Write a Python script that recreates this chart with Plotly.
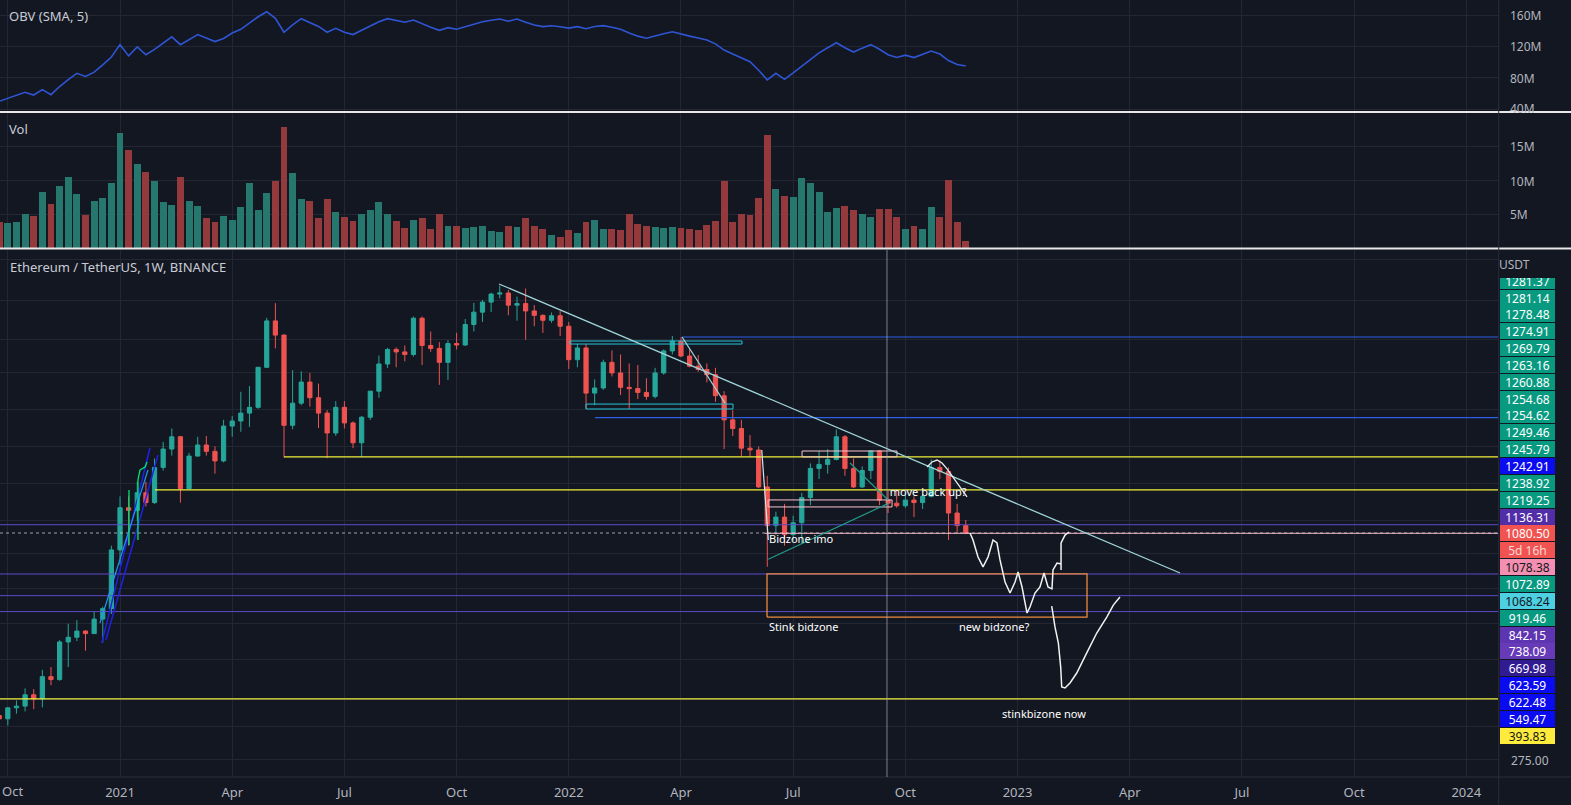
import numpy as np
import pandas as pd
import plotly.graph_objects as go

# ---------------- data ----------------
start_week = "2020-09-28"
opens = [356, 349, 373, 377, 404, 394, 451, 443, 557, 573, 595, 586, 640, 682, 975, 1260, 1240, 1380, 1300, 1610,
         1800, 1940, 1415, 1725, 1845, 1775, 1675, 2070, 2135, 2240, 2320, 2960, 3925, 3600, 2080, 2380, 2705, 2460,
         2240, 1985, 2320, 2110, 1870, 2185, 2560, 3020, 3300, 3250, 3200, 3990, 3380, 3320, 3050, 3420, 3390, 3840,
         4140, 4400, 4620, 4650, 4320, 4360, 4170, 4060, 3940, 4050, 3800, 3100, 3330, 2530, 2610, 3050, 2860, 2620,
         2600, 2540, 2480, 2860, 3270, 3470, 3170, 2980, 2920, 2830, 2490, 2150, 2040, 1810, 1790, 1430, 1130, 1190,
         1070, 1150, 1340, 1600, 1640, 1690, 1940, 1600, 1430, 1580, 1780, 1320, 1295, 1275, 1320, 1300, 1350, 1610,
         1570, 1220, 1130]
highs = [377, 375, 390, 420, 418, 470, 478, 563, 622, 636, 598, 670, 690, 1000, 1350, 1350, 1475, 1475, 1700, 1880,
         2040, 1950, 1760, 1940, 1950, 1830, 2150, 2200, 2550, 2640, 2950, 4000, 4372, 3620, 2910, 2890, 2860, 2680,
         2280, 2410, 2410, 2130, 2200, 2550, 3180, 3330, 3340, 3380, 4030, 4030, 3680, 3450, 3490, 3650, 3970, 4380,
         4460, 4660, 4868, 4740, 4550, 4780, 4320, 4080, 4130, 4170, 3900, 3410, 3410, 2750, 3100, 3280, 3200, 3030,
         3000, 2770, 2950, 3300, 3580, 3550, 3300, 3190, 3030, 2950, 2560, 2280, 2150, 1960, 1830, 1530, 1230, 1290,
         1200, 1380, 1650, 1780, 1800, 2030, 1960, 1700, 1620, 1790, 1790, 1400, 1400, 1380, 1350, 1370, 1690, 1680,
         1610, 1290, 1170]
lows = [334, 335, 360, 365, 370, 374, 428, 440, 478, 560, 528, 585, 555, 660, 890, 1000, 1165, 1270, 1290, 1580,
        1730, 1300, 1410, 1720, 1730, 1550, 1660, 1940, 2000, 2060, 2300, 2950, 3320, 1710, 2030, 2350, 2330, 2045,
        1703, 1950, 2040, 1810, 1713, 2150, 2460, 2950, 2960, 3070, 3160, 3000, 3250, 2660, 2740, 3300, 3370, 3680,
        3900, 4140, 4500, 4060, 3930, 3500, 3800, 3650, 3880, 3580, 2930, 2960, 2300, 2350, 2580, 2800, 2500, 2300,
        2440, 2430, 2450, 2830, 3200, 3150, 2960, 2880, 2700, 2400, 1800, 1950, 1720, 1720, 1420, 880, 1070, 1000,
        1030, 1010, 1280, 1500, 1550, 1680, 1530, 1420, 1420, 1500, 1280, 1220, 1260, 1260, 1190, 1250, 1340, 1500,
        1035, 1080, 1073]
closes = [349, 373, 377, 404, 394, 451, 443, 557, 573, 595, 586, 640, 682, 975, 1260, 1240, 1380, 1300, 1610, 1800,
          1940, 1415, 1725, 1845, 1775, 1675, 2070, 2135, 2240, 2320, 2960, 3925, 3600, 2080, 2380, 2705, 2460, 2240,
          1985, 2320, 2110, 1870, 2185, 2560, 3020, 3300, 3250, 3200, 3990, 3380, 3320, 3050, 3420, 3390, 3840, 4140,
          4400, 4620, 4650, 4320, 4360, 4170, 4060, 3940, 4050, 3800, 3100, 3330, 2530, 2610, 3050, 2860, 2620, 2600,
          2540, 2480, 2860, 3270, 3470, 3170, 2980, 2920, 2830, 2490, 2150, 2040, 1810, 1790, 1430, 1130, 1190, 1070,
          1150, 1340, 1600, 1640, 1690, 1940, 1600, 1430, 1580, 1780, 1320, 1295, 1275, 1320, 1300, 1350, 1610, 1570,
          1220, 1130, 1080.5]
volume_m = [3.97, 3.83, 3.97, 5.11, 4.81, 8.37, 6.59, 9.26, 10.6, 8.07, 4.96, 7.04, 7.48, 9.6, 17.1, 14.6, 12.5, 11.3,
            10.0, 6.93, 6.49, 10.6, 7.04, 6.3, 4.57, 3.93, 4.81, 4.22, 6.15, 9.6, 5.7, 8.22, 9.9, 18.0, 11.2, 7.33, 7.08,
            4.57, 7.38, 5.41, 4.67, 4.07, 5.11, 5.7, 6.93, 5.11, 4.12, 3.04, 4.27, 4.57, 2.89, 5.16, 3.33, 3.33, 3.04,
            3.19, 3.33, 2.64, 2.49, 3.33, 3.19, 4.57, 3.33, 2.94, 2.05, 1.75, 2.79, 2.3, 3.97, 4.22, 2.94, 2.89, 2.79,
            5.16, 3.63, 3.33, 3.19, 3.04, 3.19, 3.04, 2.84, 2.79, 3.48, 4.12, 9.9, 3.93, 5.11, 5.01, 7.48, 16.7, 8.81,
            7.68, 7.58, 10.44, 9.6, 8.37, 5.41, 6.0, 6.3, 5.7, 5.11, 4.67, 5.85, 5.85, 4.67, 2.94, 3.33, 2.94, 6.15,
            4.67, 10.05, 3.93, 1.16]
obv_sma_m = [50, 53.5, 57, 61.5, 58, 65, 58.5, 69, 78, 86, 82, 87.5, 97, 107, 123, 108.5, 120, 110, 117, 125, 133, 123,
             129.5, 136, 131.5, 127, 131, 138, 142.8, 151.5, 159, 165.5, 157, 139, 148.5, 156.5, 151.5, 146.5, 139, 144,
             139, 136, 141.5, 147, 152.5, 156.5, 154, 152, 154.8, 150, 145.5, 141.5, 144.9, 142.8, 146, 149.5, 152.6,
             154.5, 156, 153.2, 156, 152, 148.4, 146.3, 147.4, 146, 144.3, 146.2, 143.5, 146.5, 147.5, 145.5, 143, 138,
             134, 131.3, 134.5, 137, 139.6, 136.5, 134, 131.7, 129, 124, 116, 111, 106.5, 101, 90, 77.5, 86, 78.3, 86.5,
             95, 104.5, 112.5, 119, 125.5, 119, 113.5, 118.5, 123, 117, 110, 106.5, 109.5, 106.3, 110.5, 114.8, 110.9,
             102.5, 97.5, 95.5]

# drawings (x in weeks from first bar, y in USDT)
trend_main_x, trend_main_y = [57.92, 136.83], [4913, 847]
trend_short_x, trend_short_y = [79.12, 84.1], [3559, 2382]
drop_x, drop_y = [88.36, 89.12], [1789, 1035]
teal_a_x, teal_a_y = [89.12, 103.03], [921, 1294]
teal_b_x, teal_b_y = [98.59, 103.0], [1654, 1321]
cyan_box1_x, cyan_box1_y = [66.14, 86.07], [3410, 3473]
cyan_box2_x, cyan_box2_y = [68.0, 85.03], [2297, 2367]
pink_box1_x, pink_box1_y = [93.03, 104.03], [1716, 1779]
pink_box2_x, pink_box2_y = [89.1, 103.46], [1266, 1321]
orange_box_x, orange_box_y = [88.97, 126.05], [648, 842.15]
blue_level_start, blue_level_price = [79.12, 69.04], [3559, 2180]
yellow_level_start, yellow_level_price = [33.0, 18.05, 0.0], [1716, 1404, 393.83]
purple_level_price = [1136.31, 842.15, 738.09, 669.98]
pink_level_start, pink_level_price = 88.7, 1078.38
last_price = 1080.50
arc_x = [107.51, 108.09, 108.67, 109.25, 109.83, 110.75, 112.15]
arc_y = [1614, 1664, 1684, 1654, 1595, 1492, 1345]
wave1_x = [112.49, 112.84, 113.42, 114.0, 114.58, 115.16, 115.62, 115.97, 116.55, 117.13, 117.71, 118.06, 118.52,
           119.1, 119.44, 120.02, 120.6, 121.07, 121.53, 121.99, 122.11, 122.57, 123.04, 123.04, 123.04, 123.5, 123.97]
wave1_y = [1080.5, 1035.5, 933.8, 878.9, 933.8, 1035.5, 1016.7, 917, 802, 750, 802, 852, 778, 664, 689, 750, 778,
           847, 778, 769, 863, 900, 895, 863, 1016.7, 1067, 1087]
wave2_x = [121.96, 122.34, 122.73, 123.0, 123.12, 123.5, 124.08, 124.86, 126.02, 127.18, 128.34, 129.1, 129.87]
wave2_y = [693, 610, 553, 478, 423.5, 421, 434, 461, 521, 588, 648, 697, 732]
blue1_x, blue1_y = [11.88, 17.47], [553, 1812]
blue2_x, blue2_y = [12.37, 18.4], [564, 1737]
lblue_x, lblue_y = [11.68, 17.24], [625, 1585]
green1_x, green1_y = [15.04, 15.04], [1004, 1404]
green2_x, green2_y = [16.08, 16.08, 16.32, 16.9, 17.13], [1035, 1492, 1585, 1614, 1664]
crosshair_x = 102.87
notes = ["Bidzone imo", "move back up?", "Stink bidzone", "new bidzone?", "stinkbizone now"]
notes_x = [89.2, 103.2, 89.2, 111.22, 116.2]
notes_y = [1031, 1380, 604, 604, 356.6]

scale_labels = ["1281.37", "1281.14", "1278.48", "1274.91", "1269.79", "1263.16", "1260.88", "1254.68", "1254.62",
                "1249.46", "1245.79", "1242.91", "1238.92", "1219.25", "1136.31", "1080.50", "5d 16h", "1078.38",
                "1072.89", "1068.24", "919.46", "842.15", "738.09", "669.98", "623.59", "622.48", "549.47", "393.83"]
G, BL, RD = "#089981", "#0b0bf0", "#f05350"
scale_bg = [G] * 11 + [BL, G, G, "#512da8", RD, RD, "#f48fb1", G, "#4dd0e1", G, "#5e35b1", "#673ab7", "#311b92",
                       BL, BL, BL, "#ffeb3b"]
dark_text = {"1078.38", "1068.24", "393.83"}

price_grid = [272, 334, 392, 502, 625, 773, 951, 1169, 1464, 1834, 2283, 2860, 3495, 4431, 5685]

# ---------------- figure ----------------
W, H = 1571, 805
PLOT_W, PLOT_H = 1498, 777
BG = "#131722"
GRID = "#232733"
TXT = "#b2b5be"
FONT = "Noto Sans"

n = len(closes)
xi = np.arange(n)
all_weeks = pd.date_range(start_week, periods=176, freq="W-MON")
tickvals, ticktext = [], []
for i in range(1, len(all_weeks)):
    d = all_weeks[i]
    if d.month in (1, 4, 7, 10) and all_weeks[i - 1].month != d.month:
        tickvals.append(i)
        ticktext.append(str(d.year) if d.month == 1 else d.strftime("%b"))
# the first label sits at the left edge: drawn as a left-anchored annotation instead
first_tick_text = ticktext[0]
ticktext_axis = [""] + ticktext[1:]

XMAX = (PLOT_W + 0.8) / 8.63
XMIN = 0.8 / 8.63

def py(px):
    return (PLOT_H - px) / PLOT_H

fig = go.Figure()

def line(x, y, color, width=1, dash=None, ax="y"):
    fig.add_trace(go.Scatter(x=x, y=y, mode="lines", line=dict(color=color, width=width, dash=dash),
                             hoverinfo="skip", xaxis="x", yaxis=ax))

def box(xs, ys, color, width=1):
    line([xs[0], xs[1], xs[1], xs[0], xs[0]], [ys[0], ys[0], ys[1], ys[1], ys[0]], color, width)

for p in purple_level_price:
    line([XMIN, XMAX], [p, p], "#5a4cc8", 1)
line([XMIN, XMAX], [last_price, last_price], "rgba(210,210,215,0.75)", 1, "dot")
for s, p in zip(yellow_level_start, yellow_level_price):
    line([max(s, XMIN), XMAX], [p, p], "#f0f03a", 1.2)
for s, p in zip(blue_level_start, blue_level_price):
    line([s, XMAX], [p, p], "#2e5ee8", 1.2)
line([pink_level_start, XMAX], [pink_level_price, pink_level_price], "#f4b6c8", 1)

fig.add_trace(go.Candlestick(
    x=xi, open=opens, high=highs, low=lows, close=closes,
    increasing=dict(line=dict(color="#26a69a", width=1), fillcolor="#26a69a"),
    decreasing=dict(line=dict(color="#ef5350", width=1), fillcolor="#ef5350"),
    whiskerwidth=0, hoverinfo="skip", xaxis="x", yaxis="y"))

box(cyan_box1_x, cyan_box1_y, "#26c6da")
box(cyan_box2_x, cyan_box2_y, "#26c6da")
box(pink_box1_x, pink_box1_y, "#f8c4cf")
box(pink_box2_x, pink_box2_y, "#f8c4cf")
box(orange_box_x, orange_box_y, "#f08a3c", 1.3)
line(trend_main_x, trend_main_y, "#9fd3d8", 1.3)
line(trend_short_x, trend_short_y, "#9fd3d8", 1.3)
line(drop_x, drop_y, "#cfe8ea", 1.2)
line(teal_a_x, teal_a_y, "#1f9c8a", 1.2)
line(teal_b_x, teal_b_y, "#1f9c8a", 1.2)
line(blue1_x, blue1_y, "#2020e8", 1.5)
line(blue2_x, blue2_y, "#2020e8", 1.5)
line(lblue_x, lblue_y, "#2196f3", 1.2)
line(green1_x, green1_y, "#00e676", 1.3)
line(green2_x, green2_y, "#00e676", 1.3)
line(arc_x, arc_y, "#e8eef0", 1.3)
line(wave1_x, wave1_y, "#f2f2f2", 1.5)
line(wave2_x, wave2_y, "#f2f2f2", 1.5)
fig.add_trace(go.Scatter(x=notes_x, y=notes_y, mode="text", text=notes, textposition="middle right",
                         textfont=dict(color="#ffffff", size=11, family=FONT), hoverinfo="skip",
                         xaxis="x", yaxis="y"))

# volume
vcol = ["#26786f" if c >= o else "#943a3d" for o, c in zip(opens, closes)]
fig.add_trace(go.Bar(x=xi, y=volume_m, marker=dict(color=vcol, line=dict(width=0)), width=0.8,
                     hoverinfo="skip", xaxis="x2", yaxis="y2"))
# OBV
fig.add_trace(go.Scatter(x=xi, y=obv_sma_m, mode="lines", line=dict(color="#2f55d4", width=1.6),
                         hoverinfo="skip", xaxis="x3", yaxis="y3"))

xcommon = dict(range=[XMIN, XMAX], tickvals=tickvals, showgrid=True, gridcolor=GRID, gridwidth=1,
               zeroline=False, showline=False, ticks="", fixedrange=True, automargin=False)
fig.update_layout(
    width=W, height=H, margin=dict(l=0, r=W - PLOT_W, t=0, b=H - PLOT_H, autoexpand=False),
    paper_bgcolor=BG, plot_bgcolor=BG, showlegend=False, bargap=0,
    font=dict(family=FONT, color=TXT),
    xaxis=dict(**xcommon, ticktext=ticktext_axis, tickfont=dict(size=13, color=TXT, family=FONT),
               anchor="y", domain=[0, 1], rangeslider=dict(visible=False), ticklabelstandoff=6),
    xaxis2=dict(**xcommon, showticklabels=False, anchor="y2", matches="x"),
    xaxis3=dict(**xcommon, showticklabels=False, anchor="y3", matches="x"),
    yaxis=dict(type="log", range=[2.3891, 3.7811], domain=[0, py(250)], tickvals=price_grid,
               showticklabels=False, gridcolor=GRID, zeroline=False, side="right", fixedrange=True,
               automargin=False),
    yaxis2=dict(range=[0, 20], domain=[py(248.5), py(113)], tickvals=[5, 10, 15], showticklabels=False,
                gridcolor=GRID, zeroline=False, side="right", automargin=False),
    yaxis3=dict(range=[36.13, 180.6], domain=[py(112), 1], tickvals=[40, 80, 120, 160], showticklabels=False,
                gridcolor=GRID, zeroline=False, side="right", automargin=False),
)

XR = W / PLOT_W
shapes = [
    dict(type="line", xref="paper", yref="paper", x0=0, x1=XR, y0=py(112), y1=py(112),
         line=dict(color="#e8e8e8", width=2)),
    dict(type="line", xref="paper", yref="paper", x0=0, x1=XR, y0=py(248.5), y1=py(248.5),
         line=dict(color="#e8e8e8", width=2)),
    dict(type="line", xref="paper", yref="paper", x0=1.0005, x1=1.0005, y0=-0.04, y1=1,
         line=dict(color="#2a2e39", width=1)),
    dict(type="line", xref="paper", yref="paper", x0=0, x1=XR, y0=0, y1=0,
         line=dict(color="#2a2e39", width=1)),
    dict(type="line", xref="x", yref="paper", x0=crosshair_x, x1=crosshair_x, y0=0, y1=py(250),
         line=dict(color="rgba(170,174,186,0.7)", width=1)),
]
fig.update_layout(shapes=shapes)

ann = []
def txt(text, xpx, ypx, size=13, color=TXT, anchor="left"):
    ann.append(dict(text=text, xref="paper", yref="paper", x=xpx / PLOT_W, y=py(ypx), xanchor=anchor,
                    yanchor="middle", showarrow=False, font=dict(size=size, color=color, family=FONT)))

txt(first_tick_text, 0, 791, 13, TXT)
txt("OBV (SMA, 5)", 7, 16, 13, "#c9ccd4")
txt("Vol", 7, 129, 13, "#c9ccd4")
txt("Ethereum / TetherUS, 1W, BINANCE", 8, 267, 13, "#c9ccd4")
for t, ypx in zip(["160M", "120M", "80M", "40M"], [16, 47, 78, 108]):
    txt(t, 1508, ypx, 12)
for t, ypx in zip(["15M", "10M", "5M"], [146, 181, 215]):
    txt(t, 1508, ypx, 12)
txt("275.00", 1509, 760, 12)

for i, (t, bg) in enumerate(zip(scale_labels, scale_bg)):
    ypx = 280.7 + 16.85 * i
    fc = "#131722" if t in dark_text else "#ffffff"
    if t == "5d 16h":
        fc = "#ffd9d9"
    ann.append(dict(text=t, xref="paper", yref="paper", x=1500 / PLOT_W, y=py(ypx), xanchor="left",
                    yanchor="middle", showarrow=False, width=52, height=13, borderpad=1.5, borderwidth=0,
                    bgcolor=bg, align="center", font=dict(size=12, color=fc, family=FONT)))
ann.append(dict(text="USDT", xref="paper", yref="paper", x=1499 / PLOT_W, y=py(264), xanchor="left",
                yanchor="middle", showarrow=False, width=70, height=27, borderpad=0, borderwidth=0,
                bgcolor=BG, align="left", font=dict(size=12, color=TXT, family=FONT)))
fig.update_layout(annotations=ann)

fig.write_html("out.html")
